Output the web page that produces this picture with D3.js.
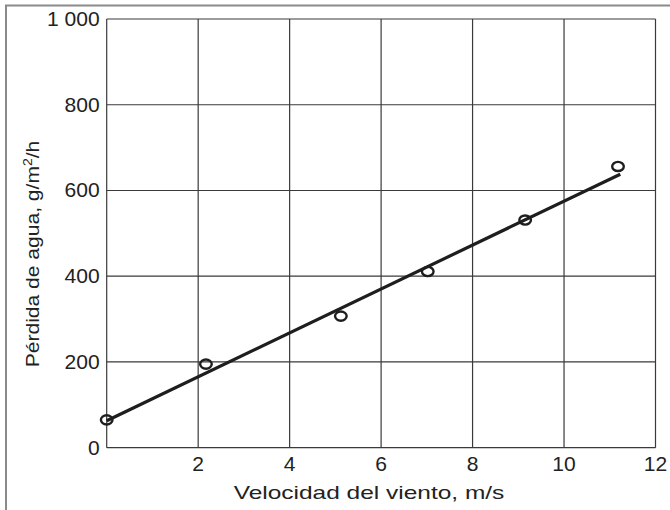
<!DOCTYPE html>
<html lang="es">
<head>
<meta charset="utf-8">
<title>Pérdida de agua vs velocidad del viento</title>
<style>
  body { margin: 0; background: #fff; }
  svg { display: block; font-family: "Liberation Sans", Arial, sans-serif; }
  .grid line { stroke: #3a3a3a; stroke-width: 1.2; }
  .tick-label { font-size: 19.5px; fill: #222; }
  .title { font-size: 18px; fill: #222; }
</style>
</head>
<body>
<div id="chart"></div>
<script src="https://cdn.jsdelivr.net/npm/d3@7"></script>
<script>
  // data
  var windSpeed = [0, 2.17, 5.12, 7.02, 9.15, 11.18];
  var waterLoss = [65, 195, 307, 411, 531, 656];
  var fitX = [0, 11.23];
  var fitY = [63, 638];
  var xTicks = [2, 4, 6, 8, 10, 12];
  var yTicks = [0, 200, 400, 600, 800, 1000];
  var yTickLabels = ["0", "200", "400", "600", "800", "1 000"];

  var width = 670, height = 510;
  var margin = {top: 19, right: 14.5, bottom: 62.3, left: 106.7};

  var svg = d3.select("#chart").append("svg")
      .attr("width", width)
      .attr("height", height);

  // outer frame (top and left edges visible)
  svg.append("path")
      .attr("d", "M6,510 V5.5 H670")
      .attr("fill", "none")
      .attr("stroke", "#8a8a8a")
      .attr("stroke-width", 2);

  var x = d3.scaleLinear().domain([0, 12]).range([margin.left, width - margin.right]);
  var y = d3.scaleLinear().domain([0, 1000]).range([height - margin.bottom, margin.top]);

  var grid = svg.append("g").attr("class", "grid");
  grid.selectAll(".vx").data(xTicks).enter().append("line")
      .attr("x1", function(d) { return x(d); })
      .attr("x2", function(d) { return x(d); })
      .attr("y1", y(0)).attr("y2", y(1000));
  grid.selectAll(".hy").data(yTicks).enter().append("line")
      .attr("x1", x(0)).attr("x2", x(12))
      .attr("y1", function(d) { return y(d); })
      .attr("y2", function(d) { return y(d); });
  grid.append("line")
      .attr("x1", x(0)).attr("x2", x(0))
      .attr("y1", y(0)).attr("y2", y(1000));

  // tick labels
  svg.selectAll(".xl").data(xTicks).enter().append("text")
      .attr("class", "tick-label")
      .attr("transform", function(d) { return "translate(" + x(d) + "," + (y(0) + 23) + ") scale(1.08,1)"; })
      .attr("text-anchor", "middle")
      .text(function(d) { return d; });

  svg.selectAll(".yl").data(yTicks).enter().append("text")
      .attr("class", "tick-label")
      .attr("transform", function(d) { return "translate(" + (x(0) - 7) + "," + (y(d) + 7) + ") scale(1.08,1)"; })
      .attr("text-anchor", "end")
      .text(function(d, i) { return yTickLabels[i]; });

  // axis titles
  svg.append("text")
      .attr("class", "title")
      .attr("transform", "translate(369,499) scale(1.36,1)")
      .attr("text-anchor", "middle")
      .text("Velocidad del viento, m/s");

  var yt = svg.append("text")
      .attr("class", "title")
      .attr("transform", "translate(39,254) rotate(-90) scale(1.17,1)")
      .attr("text-anchor", "middle");
  yt.append("tspan").text("Pérdida de agua, g/m");
  yt.append("tspan").attr("font-size", "12px").attr("dy", -7).text("2");
  yt.append("tspan").attr("dy", 7).text("/h");

  // fitted line
  var line = d3.line()
      .x(function(d) { return x(d[0]); })
      .y(function(d) { return y(d[1]); });
  svg.append("path")
      .datum(d3.zip(fitX, fitY))
      .attr("d", line)
      .attr("fill", "none")
      .attr("stroke", "#1e1e1e")
      .attr("stroke-width", 3.2);

  // measured points
  svg.selectAll(".pt").data(d3.zip(windSpeed, waterLoss)).enter().append("ellipse")
      .attr("cx", function(d) { return x(d[0]); })
      .attr("cy", function(d) { return y(d[1]); })
      .attr("rx", 5.8)
      .attr("ry", 4.6)
      .attr("fill", "none")
      .attr("stroke", "#1e1e1e")
      .attr("stroke-width", 2.4);
</script>
</body>
</html>
